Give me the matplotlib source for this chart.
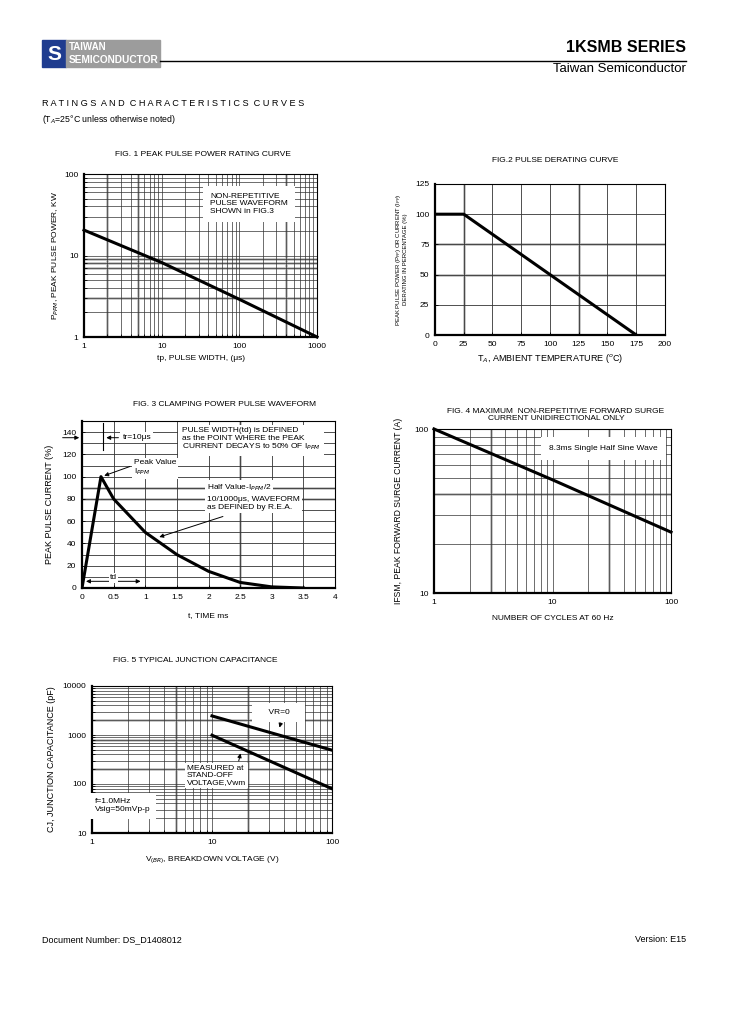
import numpy as np
import matplotlib
matplotlib.use("Agg")
import matplotlib.pyplot as plt
from matplotlib.patches import Rectangle
from matplotlib.ticker import MultipleLocator, NullFormatter

plt.rcParams['font.family'] = ['Liberation Sans', 'DejaVu Sans']
plt.rcParams['mathtext.fontset'] = 'custom'
plt.rcParams['mathtext.rm'] = 'Liberation Sans'

W, H = 729, 1032

# fig1: peak pulse power
f1_tp = [1, 10, 100, 1000]
f1_p = [20.5, 8.2, 2.9, 1.0]
# fig2: derating
f2_t = [0, 25, 175]
f2_pct = [100, 100, 0]
# fig3: pulse waveform
f3_t = [0, 0.3, 0.5, 1.0, 1.5, 2.0, 2.5, 3.0, 3.5]
f3_i = [0, 100, 80, 50, 30, 15, 5, 1, 0]
# fig4: surge current
f4_n = [1, 10, 100]
f4_i = [100, 49, 23.5]
# fig5: junction capacitance
f5_v = [10, 100]
f5_vr0 = [2450, 490]
f5_vwm = [990, 80]

GRID = '#333333'
GREY = '#b8b8b8'


def px(x, y):
    return x / W, 1 - y / H


def box(x0, y0, x1, y1):
    return [x0 / W, 1 - y1 / H, (x1 - x0) / W, (y1 - y0) / H]


def style(ax):
    for s in ['left', 'bottom']:
        ax.spines[s].set_linewidth(1.6)
    for s in ['top', 'right']:
        ax.spines[s].set_linewidth(0.8)
    ax.tick_params(which='both', direction='in', labelsize=6, length=2, width=0.6, pad=4)
    ax.tick_params(which='minor', labelbottom=False, labelleft=False)


def grey_lines(ax, xs=(), ys=()):
    for x in xs:
        ax.axvline(x, color=GREY, lw=1.8, zorder=1)
    for y in ys:
        ax.axhline(y, color=GREY, lw=1.8, zorder=1)


def white(pad=0.3):
    return dict(facecolor='white', edgecolor='none', pad=pad)


fig = plt.figure(figsize=(W / 100, H / 100), dpi=100)

# header
fig.patches.append(Rectangle(px(42, 67), 24 / W, 27 / H, transform=fig.transFigure, color='#1f3c8f'))
fig.text(*px(54, 54), 'S', color='white', fontsize=15, fontweight='bold', ha='center', va='center')
fig.patches.append(Rectangle(px(66, 67), 94 / W, 27 / H, transform=fig.transFigure, color='#9c9c9c'))
fig.text(*px(69, 47), 'TAIWAN', color='white', fontsize=7, fontweight='bold', va='center')
fig.text(*px(69, 60), 'SEMICONDUCTOR', color='white', fontsize=7.3, fontweight='bold', va='center')
fig.add_artist(plt.Line2D([160 / W, 686 / W], [1 - 61 / H, 1 - 61 / H], color='black', lw=1))
fig.text(*px(686, 48), '1KSMB SERIES', fontsize=11.5, fontweight='bold', ha='right', va='center')
fig.text(*px(686, 69), 'Taiwan Semiconductor', fontsize=9.5, ha='right', va='center')
fig.text(*px(42, 103), 'R A T I N G S  A N D  C H A R A C T E R I S T I C S  C U R V E S',
         fontsize=6.6, va='center')
fig.text(*px(42, 120), '(T$_A$=25°C unless otherwise noted)', fontsize=6.3, va='center')
fig.text(*px(42, 940), 'Document Number: DS_D1408012', fontsize=6.5, va='center')
fig.text(*px(686, 940), 'Version: E15', fontsize=6.5, ha='right', va='center')

# FIG 1
ax1 = fig.add_axes(box(84, 174, 317, 337))
ax1.set_xscale('log')
ax1.set_yscale('log')
ax1.set_xlim(1, 1000)
ax1.set_ylim(1, 100)
ax1.grid(True, which='both', color=GRID, lw=0.5)
grey_lines(ax1, xs=[2, 5, 400], ys=[3, 7, 8, 9])
ax1.plot(f1_tp, f1_p, color='black', lw=2.2, zorder=3, clip_on=False)
ax1.set_xticks([1, 10, 100, 1000], ['1', '10', '100', '1000'])
ax1.set_yticks([1, 10, 100], ['1', '10', '100'])
ax1.yaxis.set_minor_formatter(NullFormatter())
ax1.xaxis.set_minor_formatter(NullFormatter())
style(ax1)
ax1.text(42, 43, 'NON-REPETITIVE\nPULSE WAVEFORM\nSHOWN in FIG.3', fontsize=6, ha='left', va='center',
         linespacing=1.1, zorder=4, bbox=dict(facecolor='white', edgecolor='none', pad=5))
ax1.set_xlabel('tp, PULSE WIDTH, (μs)', fontsize=6, labelpad=4)
ax1.set_ylabel('P$_{PPM}$, PEAK PULSE POWER, KW', fontsize=6, labelpad=2)
fig.text(*px(203, 155), 'FIG. 1 PEAK PULSE POWER RATING CURVE', fontsize=6, ha='center', va='center')

# FIG 2
ax2 = fig.add_axes(box(435, 184, 665, 335))
ax2.set_xlim(0, 200)
ax2.set_ylim(0, 125)
ax2.set_xticks(range(0, 201, 25))
ax2.set_yticks(range(0, 126, 25))
ax2.grid(True, color=GRID, lw=0.6)
grey_lines(ax2, xs=[25, 125], ys=[50, 75])
ax2.plot(f2_t, f2_pct, color='black', lw=2.2, zorder=3)
style(ax2)
ax2.set_xlabel('T$_A$, AMBIENT TEMPERATURE ($^o$C)', fontsize=6.5, labelpad=3)
ax2.set_ylabel('PEAK PULSE POWER (P$_{PP}$) OR CURRENT (I$_{PP}$)\nDERATING IN PERCENTAGE (%)',
               fontsize=4.3, labelpad=5, linespacing=1.0)
fig.text(*px(555, 161), 'FIG.2 PULSE DERATING CURVE', fontsize=6, ha='center', va='center')

# FIG 3
ax3 = fig.add_axes(box(82, 421, 335, 588))
ax3.set_xlim(0, 4)
ax3.set_ylim(0, 150)
ax3.set_xticks(np.arange(0, 4.01, 0.5), ['0', '0.5', '1', '1.5', '2', '2.5', '3', '3.5', '4'])
ax3.set_yticks(range(0, 141, 20))
ax3.yaxis.set_minor_locator(MultipleLocator(10))
ax3.grid(True, which='both', color=GRID, lw=0.6)
grey_lines(ax3, xs=[2.5], ys=[80, 90])
ax3.plot(f3_t, f3_i, color='black', lw=2.2, zorder=3)
style(ax3)
ax3.tick_params(which='minor', length=0)
arr = dict(arrowstyle='-|>', color='black', lw=0.7, mutation_scale=6)
ax3.annotate('', xy=(0, 135), xytext=(-0.35, 135), arrowprops=arr, annotation_clip=False)
ax3.plot([0.33, 0.33], [124, 148], color='black', lw=0.8, zorder=4)
ax3.annotate('', xy=(0.34, 135), xytext=(0.62, 135), arrowprops=arr, zorder=4)
ax3.text(0.64, 135, 'tr=10μs', fontsize=6, va='center', zorder=4, bbox=white(1.5))
ax3.text(1.58, 133, 'PULSE WIDTH(td) is DEFINED\nas the POINT WHERE the PEAK\nCURRENT DECAYS to 50% OF I$_{PPM}$',
         fontsize=6, va='center', linespacing=1.05, zorder=4, bbox=white(2.5))
ax3.text(0.82, 108, 'Peak Value\nI$_{PPM}$', fontsize=6, va='center', linespacing=1.0, zorder=4, bbox=white(1.5))
ax3.annotate('', xy=(0.31, 100), xytext=(0.8, 110), arrowprops=arr, zorder=4)
ax3.text(1.97, 90, 'Half Value-I$_{PPM}$/2', fontsize=6, va='center', zorder=4, bbox=white(1.5))
ax3.text(1.97, 76, '10/1000μs, WAVEFORM\nas DEFINED by R.E.A.', fontsize=6, va='center', linespacing=1.05,
         zorder=4, bbox=white(1.5))
ax3.annotate('', xy=(1.18, 45), xytext=(2.27, 65), arrowprops=arr, zorder=4)
ax3.annotate('', xy=(0.02, 6), xytext=(0.97, 6), arrowprops=dict(arrowstyle='<|-|>', color='black', lw=0.7,
                                                                mutation_scale=6), zorder=4)
ax3.text(0.5, 9, 'td', fontsize=6, ha='center', va='center', zorder=5, bbox=white(0.8))
ax3.set_xlabel('t, TIME ms', fontsize=6, labelpad=8)
ax3.set_ylabel('PEAK PULSE CURRENT (%)', fontsize=6.5, labelpad=6)
fig.text(*px(225, 404), 'FIG. 3 CLAMPING POWER PULSE WAVEFORM', fontsize=6, ha='center', va='center')

# FIG 4
ax4 = fig.add_axes(box(434, 429, 671, 593))
ax4.set_xscale('log')
ax4.set_yscale('log')
ax4.set_xlim(1, 100)
ax4.set_ylim(10, 100)
ax4.grid(True, which='both', color=GRID, lw=0.5)
grey_lines(ax4, xs=[3, 30], ys=[40])
ax4.plot(f4_n, f4_i, color='black', lw=2.2, zorder=3, clip_on=False)
ax4.set_xticks([1, 10, 100], ['1', '10', '100'])
ax4.set_yticks([10, 100], ['10', '100'])
ax4.xaxis.set_minor_formatter(NullFormatter())
ax4.yaxis.set_minor_formatter(NullFormatter())
style(ax4)
ax4.tick_params(which='both', length=0)
ax4.text(27, 76, '8.3ms Single Half Sine Wave', fontsize=6, ha='center', va='center', zorder=4,
         bbox=dict(facecolor='white', edgecolor='none', pad=6))
ax4.set_xlabel('NUMBER OF CYCLES AT 60 Hz', fontsize=6, labelpad=7)
ax4.set_ylabel('IFSM, PEAK FORWARD SURGE CURRENT (A)', fontsize=6.2, labelpad=8)
fig.text(*px(556, 415), 'FIG. 4 MAXIMUM  NON-REPETITIVE FORWARD SURGE\nCURRENT UNIDIRECTIONAL ONLY',
         fontsize=6, ha='center', va='center', linespacing=1.0)

# FIG 5
ax5 = fig.add_axes(box(92, 686, 332, 833))
ax5.set_xscale('log')
ax5.set_yscale('log')
ax5.set_xlim(1, 100)
ax5.set_ylim(10, 10000)
ax5.grid(True, which='both', color=GRID, lw=0.5)
grey_lines(ax5, xs=[5, 20], ys=[200, 800, 2000])
ax5.plot(f5_v, f5_vr0, color='black', lw=2.2, zorder=3)
ax5.plot(f5_v, f5_vwm, color='black', lw=2.2, zorder=3)
ax5.set_xticks([1, 10, 100], ['1', '10', '100'])
ax5.set_yticks([10, 100, 1000, 10000], ['10', '100', '1000', '10000'])
ax5.xaxis.set_minor_formatter(NullFormatter())
ax5.yaxis.set_minor_formatter(NullFormatter())
style(ax5)
ax5.text(36, 2850, '    VR=0    ', fontsize=6, ha='center', va='center', zorder=4,
         bbox=dict(facecolor='white', edgecolor='none', pad=4.5))
ax5.annotate('', xy=(36, 1250), xytext=(38, 2000), arrowprops=arr, zorder=4)
ax5.text(6.2, 150, 'MEASURED at\nSTAND-OFF\nVOLTAGE,Vwm', fontsize=6, ha='left', va='center', linespacing=1.05,
         zorder=4, bbox=white(1.5))
ax5.annotate('', xy=(17.5, 480), xytext=(16.5, 260), arrowprops=arr, zorder=4)
ax5.text(1.05, 36, 'f=1.0MHz\nVsig=50mVp-p', fontsize=6, ha='left', va='center', linespacing=1.1,
         zorder=4, bbox=dict(facecolor='white', edgecolor='none', pad=4))
ax5.set_xlabel('V$_{(BR)}$, BREAKDOWN VOLTAGE (V)', fontsize=6, labelpad=7)
ax5.set_ylabel('CJ, JUNCTION CAPACITANCE (pF)', fontsize=6.5, labelpad=5)
fig.text(*px(195, 661), 'FIG. 5 TYPICAL JUNCTION CAPACITANCE', fontsize=6, ha='center', va='center')

fig.savefig('out.png', dpi=100)
